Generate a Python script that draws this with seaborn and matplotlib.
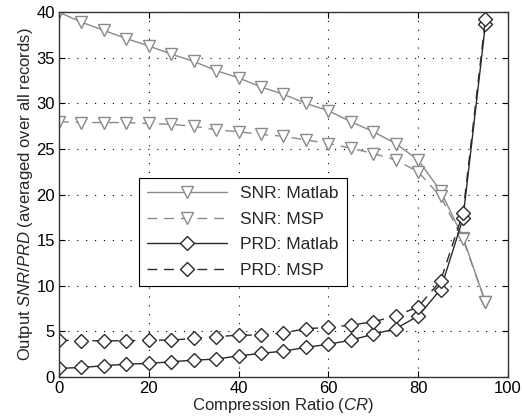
import numpy as np
import pandas as pd
import matplotlib
matplotlib.use('Agg')
import matplotlib.pyplot as plt
import seaborn as sns

cr = [0, 5, 10, 15, 20, 25, 30, 35, 40, 45, 50, 55, 60, 65, 70, 75, 80, 85, 90, 95]
snr_matlab = [40.0, 38.9, 38.0, 37.1, 36.3, 35.4, 34.6, 33.6, 32.8, 31.8, 31.0,
              30.0, 29.2, 28.0, 26.9, 25.6, 23.8, 20.4, 15.3, 8.2]
snr_msp = [28.0, 27.9, 27.9, 27.9, 27.8, 27.7, 27.5, 27.1, 26.9, 26.6, 26.4,
           26.0, 25.6, 25.1, 24.5, 23.8, 22.5, 19.8, 15.1, 8.2]
prd_matlab = [0.95, 1.06, 1.24, 1.42, 1.5, 1.68, 1.86, 1.97, 2.33, 2.6, 2.85,
              3.25, 3.6, 4.05, 4.7, 5.3, 6.7, 9.6, 17.4, 38.7]
prd_msp = [4.05, 3.98, 3.98, 3.98, 4.05, 4.05, 4.24, 4.42, 4.6, 4.6, 4.85,
           5.3, 5.45, 5.7, 6.06, 6.7, 7.7, 10.55, 18.0, 39.3]

sns.set_style('white')
plt.rcParams['font.family'] = ['Liberation Sans', 'DejaVu Sans']
plt.rcParams['mathtext.fontset'] = 'custom'
plt.rcParams['mathtext.it'] = 'Liberation Sans:italic'
plt.rcParams['mathtext.rm'] = 'Liberation Sans'

fig = plt.figure(figsize=(5.22, 4.19), dpi=100)
ax = fig.add_axes([0.113, 0.1, 0.86, 0.871])

gray = '#8a8a8a'
dark = '#2a2a2a'
series = [
    ('SNR: Matlab', snr_matlab, 'v', gray, ''),
    ('SNR: MSP', snr_msp, 'v', gray, (7, 5)),
    ('PRD: Matlab', prd_matlab, 'D', dark, ''),
    ('PRD: MSP', prd_msp, 'D', dark, (7, 5)),
]
for label, vals, mk, col, dash in series:
    df = pd.DataFrame({'cr': cr, 'v': vals})
    sns.lineplot(data=df, x='cr', y='v', ax=ax, color=col, lw=1.0,
                 marker=mk, markersize=8.5 if mk == 'v' else 7,
                 markerfacecolor='white', markeredgecolor=col,
                 markeredgewidth=1.0, label=label)
    if dash:
        ax.lines[-1].set_dashes(dash)

ax.set_xlim(0, 100)
ax.set_ylim(0, 40)
ax.set_xticks(range(0, 101, 20))
ax.set_yticks(range(0, 41, 5))
ax.grid(True, color='black', linestyle=(0, (1, 7)), linewidth=0.8)
for s in ax.spines.values():
    s.set_color('#333333')
    s.set_linewidth(1.0)
ax.tick_params(direction='in', length=4, labelsize=12, colors='black',
               top=True, right=True, bottom=True, left=True, width=0.8, pad=3)
ax.set_xlabel('Compression Ratio ($\\it{CR}$)', fontsize=12, labelpad=0)
ax.set_ylabel('Output $\\it{SNR/PRD}$ (averaged over all records)', fontsize=12, labelpad=1)

leg = ax.legend(loc='upper left', bbox_to_anchor=(0.178, 0.545), borderaxespad=0,
                fontsize=12.5, frameon=True, fancybox=False, edgecolor='black',
                framealpha=1, handlelength=4.6, borderpad=0.45, labelspacing=0.6)
leg.get_frame().set_linewidth(0.8)

fig.savefig('out.png', dpi=100)
